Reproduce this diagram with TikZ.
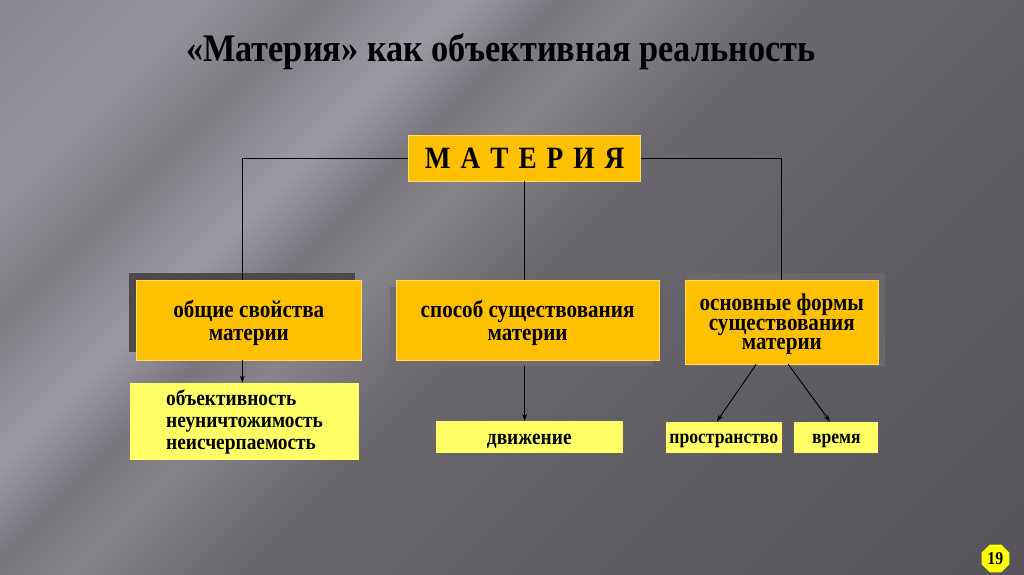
\documentclass[tikz,border=0pt]{standalone}
\usepackage{fontspec}
\setmainfont{Liberation Serif}
\newfontfamily\cf[FakeStretch=0.88]{Liberation Serif}
\usetikzlibrary{shapes.geometric,arrows.meta}
\definecolor{orng}{HTML}{FFC000}
\definecolor{lyel}{HTML}{FFFF66}
\definecolor{pgyel}{HTML}{FFFF00}
\definecolor{bgA}{RGB}{138,134,143}
\definecolor{bgB}{RGB}{150,146,155}
\definecolor{bgC}{RGB}{126,123,131}
\definecolor{bgD}{RGB}{158,154,164}
\definecolor{bgE}{RGB}{120,117,125}
\definecolor{bgF}{RGB}{134,131,139}
\definecolor{bgG}{RGB}{106,104,110}
\definecolor{bgH}{RGB}{96,94,100}
\definecolor{bgI}{RGB}{86,84,90}
\definecolor{shdark}{RGB}{76,74,80}
\definecolor{shlight}{RGB}{112,110,116}
\pgfdeclarehorizontalshading{bgshade}{100bp}{color(0bp)=(bgA); color(32.3bp)=(bgA); color(36.5bp)=(bgB); color(39.4bp)=(bgC); color(42.5bp)=(bgD); color(44.7bp)=(bgE); color(46.5bp)=(bgF); color(50bp)=(bgG); color(56.6bp)=(bgH); color(67.7bp)=(bgI); color(100bp)=(bgI)}
\tikzset{
  mainbox/.style={fill=orng, draw=orng!60!white, line width=0.8pt, inner sep=0pt, align=center,
    font=\cf\bfseries\fontsize{24}{23.5}\selectfont},
  subbox/.style={fill=lyel, inner sep=0pt, align=center,
    font=\cf\bfseries\fontsize{22}{21.7}\selectfont},
  shadowbox/.style={inner sep=0pt},
  link/.style={draw=black, line width=0.9pt},
  arr/.style={link, -{Stealth[length=7pt,width=5pt]}}
}
\begin{document}
\begin{tikzpicture}[x=1pt,y=-1pt]
\useasboundingbox (0,0) rectangle (1024,574);
\begin{scope}
\clip (0,0) rectangle (1024,574);
\shade[shading=bgshade, shading angle=-45] (-288,-513) rectangle (1312,1087);
\end{scope}
% title
\node[anchor=base, inner sep=0pt, font=\cf\bfseries\fontsize{39}{44}\selectfont] (title) at (501,61.5)
  {«Материя» как объективная реальность};
% shadows
\node[shadowbox, fill=shdark, minimum width=226, minimum height=79] (s1) at (242,312.2) {};
\node[shadowbox, fill=shlight, minimum width=263, minimum height=79.3] (s2) at (521.5,326.3) {};
\node[shadowbox, fill=shlight, opacity=0.6, minimum width=198.3, minimum height=93.7] (s3) at (785.8,319.8) {};
% top box
\node[mainbox, minimum width=232, minimum height=46, font=\cf\bfseries\fontsize{31}{34}\selectfont] (mat) at (524.6,158)
  {М\hspace{10pt}А\hspace{10pt}Т\hspace{10pt}Е\hspace{10pt}Р\hspace{10pt}И\hspace{10pt}Я};
% second level
\node[mainbox, minimum width=224.3, minimum height=79.3] (b1) at (248.8,320.3) {\rule{0pt}{22pt}общие свойства\\материи};
\node[mainbox, minimum width=263.3, minimum height=79.3] (b2) at (527.6,320.3) {\rule{0pt}{22pt}способ существования\\материи};
\node[mainbox, minimum width=193, minimum height=83.3, font=\cf\bfseries\fontsize{24}{19.3}\selectfont] (b3) at (781.8,322.3) {\rule{0pt}{21pt}основные формы\\существования\\материи};
% third level
\node[subbox, minimum width=229.3, minimum height=77.3, align=left] (c1) at (244.6,421.3) {\rule{0pt}{17pt}объективность\\неуничтожимость\\неисчерпаемость};
\node[subbox, minimum width=186.7, minimum height=31.7] (c2) at (529.3,436.8) {\rule{0pt}{19pt}движение};
\node[subbox, minimum width=115.7, minimum height=31.6, font=\cf\bfseries\fontsize{20}{21}\selectfont] (c3a) at (723.8,437.5) {\rule{0pt}{17pt}пространство};
\node[subbox, minimum width=84, minimum height=31.6, font=\cf\bfseries\fontsize{20}{21}\selectfont] (c3b) at (836.3,437.5) {\rule{0pt}{17pt}время};
% connectors
\draw[link] (mat.west) -| ([xshift=-6.5pt]b1.north);
\draw[link] (mat.east) -| (b3.north);
\draw[link] (mat.south) -- (mat.south |- b2.north);
\draw[arr] ([xshift=-6.5pt]b1.south) -- ([xshift=-6.5pt]b1.south |- c1.north);
\draw[arr] (mat.south |- s2.south) -- (mat.south |- c2.north);
\draw[arr] ([xshift=-25.6pt]b3.south) -- ([xshift=-7pt]c3a.north);
\draw[arr] ([xshift=6.5pt]b3.south) -- ([xshift=-6.3pt]c3b.north);
% page number
\node[regular polygon, regular polygon sides=8, fill=pgyel, inner sep=0pt, minimum size=30,
  font=\cf\bfseries\fontsize{18}{19}\selectfont] (pg) at (995.4,558.5) {19};
\end{tikzpicture}
\end{document}
